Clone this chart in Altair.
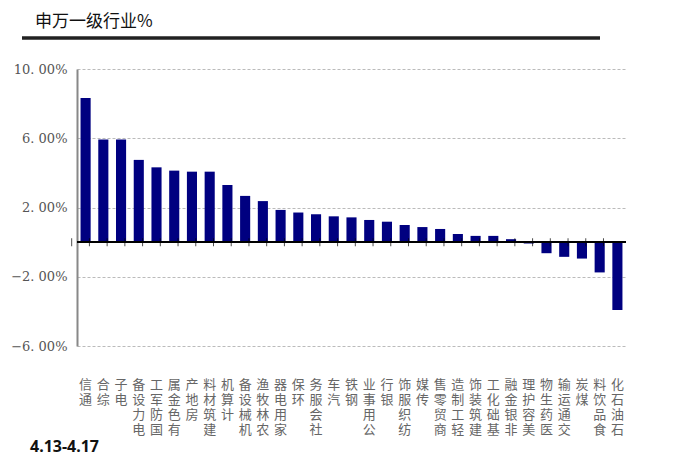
"""申万一级行业周涨跌幅 bar chart."""
import altair as alt
import pandas as pd

industries = ['通信', '综合', '电子', '电力设备', '国防军工', '有色金属', '房地产',
              '建筑材料', '计算机', '机械设备', '农林牧渔', '家用电器', '环保',
              '社会服务', '汽车', '钢铁', '公用事业', '银行', '纺织服饰', '传媒',
              '商贸零售', '轻工制造', '建筑装饰', '基础化工', '非银金融', '美容护理',
              '医药生物', '交通运输', '煤炭', '食品饮料', '石油石化']
changes = [8.33, 5.93, 5.93, 4.75, 4.32, 4.13, 4.07, 4.07, 3.30, 2.67, 2.37,
           1.86, 1.71, 1.61, 1.49, 1.43, 1.28, 1.18, 0.99, 0.87, 0.76, 0.47,
           0.36, 0.36, 0.17, -0.08, -0.64, -0.85, -0.95, -1.75, -3.92]
y_ticks = [-6, -4, -2, 0, 2, 4, 6, 8, 10]
title_text = '申万一级行业%'
date_text = '4.13-4.17'

W, H = 549, 277
PAD_IN, PAD_OUT = 0.43, 0.2
step = W / (len(industries) - PAD_IN + 2 * PAD_OUT)

df = pd.DataFrame({'industry': industries, 'change': changes})

bars = alt.Chart(df).mark_bar(color='#000080').encode(
    x=alt.X('industry:N', sort=None, title=None,
            scale=alt.Scale(paddingInner=PAD_IN, paddingOuter=PAD_OUT),
            axis=alt.Axis(orient='bottom', labelAngle=0, labelPadding=32,
                          labelBaseline='top', labelAlign='center',
                          labelFont='Noto Sans CJK SC', labelFontSize=13,
                          labelLineHeight=15, labelColor='#666',
                          labelExpr="reverse(split(datum.label, ''))",
                          ticks=False, domain=False, grid=False)),
    y=alt.Y('change:Q', title=None,
            scale=alt.Scale(domain=[-6, 10], nice=False),
            axis=alt.Axis(values=y_ticks, labelOverlap=False,
                          labelExpr="replace(format(datum.value, '.2f'), '.', '. ') + '%'",
                          labelFont='DejaVu Serif', labelFontSize=13,
                          labelColor='#555', labelPadding=10, ticks=False,
                          domainColor='#888', domainWidth=2,
                          gridColor='#bbb', gridDash=[3, 2], gridWidth=1)),
)

# black zero line, with small ticks between the bars
zero_line = alt.Chart(df).mark_rule(color='#000', strokeWidth=1.5).encode(
    y=alt.datum(0))

zero_ticks = alt.Chart(df).mark_tick(
    orient='vertical', size=8, thickness=1, color='#000').encode(
    x=alt.X('industry:N', sort=None),
    y=alt.datum(0),
    xOffset=alt.value(-step / 2),
)

title = alt.Chart(pd.DataFrame({'t': [title_text]})).mark_text(
    align='left', baseline='middle', font='Noto Sans CJK SC', fontSize=17,
    color='#111').encode(x=alt.value(-42), y=alt.value(-47), text='t:N')

underline = alt.Chart(pd.DataFrame({'t': [0]})).mark_rule(
    color='#222', strokeWidth=3.5).encode(
    x=alt.value(-55), x2=alt.value(523), y=alt.value(-31))

date = alt.Chart(pd.DataFrame({'t': [date_text]})).mark_text(
    align='left', baseline='middle', font='Noto Sans', fontSize=16,
    fontWeight='bold', color='#111').encode(
    x=alt.value(-47), y=alt.value(378), text='t:N')

chart = alt.layer(bars, zero_line, zero_ticks, title, underline, date).properties(
    width=W, height=H,
    autosize=alt.AutoSizeParams(type='none'),
    padding={'left': 69, 'top': 61, 'right': 39, 'bottom': 119},
).configure_view(
    stroke=None
).configure_axis(
    labelOverlap=False
).configure_axisY(
    labelOverlap=False
)

chart.save("out.html", embed_options={"renderer": "svg", "actions": False})
